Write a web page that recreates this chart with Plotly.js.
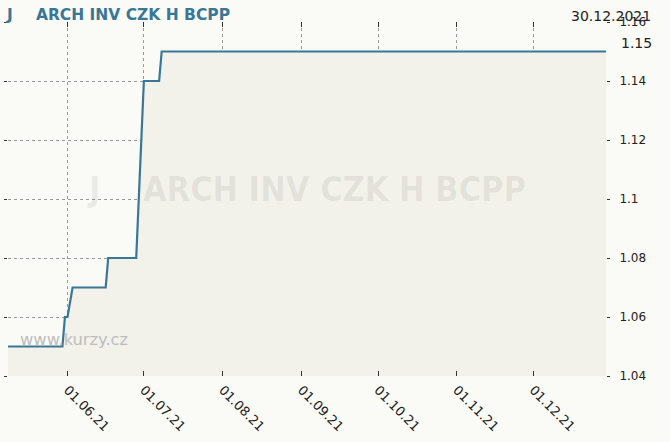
<!DOCTYPE html>
<html><head><meta charset="utf-8">
<script src="https://cdn.plot.ly/plotly-3.0.1.min.js"></script>
<style>html,body{margin:0;padding:0;background:#fafaf6}</style>
</head><body><div id="chart" style="width:670px;height:442px"></div>
<script>
const dates = ['2021-05-08','2021-05-30','2021-05-31','2021-06-01','2021-06-03','2021-06-16','2021-06-17','2021-06-28','2021-06-29','2021-06-30','2021-07-01','2021-07-07','2021-07-08','2021-12-30'];
const values = [1.05,1.05,1.06,1.06,1.07,1.07,1.08,1.08,1.10,1.12,1.14,1.14,1.15,1.15];
const monthTicks = ['2021-06-01','2021-07-01','2021-08-01','2021-09-01','2021-10-01','2021-11-01','2021-12-01'];
const monthLabels = ['01.06.21','01.07.21','01.08.21','01.09.21','01.10.21','01.11.21','01.12.21'];
const minorTicks = ['2021-05-11','2021-05-21','2021-06-11','2021-06-21','2021-07-11','2021-07-21','2021-08-11','2021-08-21','2021-09-11','2021-09-21','2021-10-11','2021-10-21','2021-11-11','2021-11-21','2021-12-11','2021-12-21'];
const yTicks = [1.04,1.06,1.08,1.1,1.12,1.14,1.16];
const yLabels = ['1.04','1.06','1.08','1.1','1.12','1.14','1.16'];
const xRange = ['2021-05-08 15:00','2021-12-29 13:30'];
const yRange = [1.04,1.16];
const titleText = 'J\u00a0\u00a0\u00a0\u00a0\u200aARCH INV CZK H BCPP';
const watermarkTitle = 'J\u00a0\u00a0\u00a0\u00a0ARCH INV CZK H BCPP';
const lastDate = '30.12.2021';
const lastValue = '1.15';
const watermark = 'www.kurzy.cz';

const LINE = '#3a7696';
const BG = '#fafaf6';
const FONT = 'DejaVu Sans, Verdana, sans-serif';

const traces = [{
  x: dates, y: values, type: 'scatter', mode: 'lines',
  line: {color: LINE, width: 2.2, shape: 'linear'},
  fill: 'tozeroy', fillcolor: '#f2f2ea',
  hoverinfo: 'skip', showlegend: false
}];

const gridStyle = {showgrid: true, gridcolor: '#9a9a9a', griddash: 'dot', gridwidth: 1, zeroline: false, showline: false};

const layout = {
  width: 670, height: 442,
  margin: {l: 8, r: 64, t: 22, b: 66},
  paper_bgcolor: BG, plot_bgcolor: BG,
  font: {family: FONT, color: '#222', size: 12},
  title: {text: titleText, x: 7/670, xref: 'container', xanchor: 'left', y: 1 - 15/442, yref: 'container', yanchor: 'middle',
          font: {family: FONT, size: 15.5, weight: 'bold', color: LINE}},
  xaxis: Object.assign({}, gridStyle, {
    type: 'date', range: xRange, tickmode: 'array', tickvals: monthTicks, ticktext: monthLabels,
    tickangle: 45, ticks: 'inside', ticklen: 5, tickcolor: '#333', mirror: 'ticks', ticklabelstandoff: 3,
    tickfont: {family: FONT, size: 13, color: '#222'}
  }),
  xaxis2: {
    type: 'date', range: xRange, overlaying: 'x', anchor: 'y', tickmode: 'array', tickvals: minorTicks,
    ticks: 'inside', ticklen: 3, tickcolor: '#333', mirror: 'ticks', showticklabels: false,
    showgrid: false, zeroline: false, showline: false
  },
  yaxis: Object.assign({}, gridStyle, {
    side: 'right', range: yRange, tickmode: 'array', tickvals: yTicks, ticktext: yLabels,
    ticks: 'outside', ticklen: 3, tickcolor: '#333', mirror: 'ticks', ticklabelstandoff: 7,
    tickfont: {family: FONT, size: 12, color: '#222'}
  }),
  annotations: [
    {text: watermarkTitle, xref: 'paper', yref: 'paper', x: 0.499, y: 0.528, xanchor: 'center', yanchor: 'middle', showarrow: false,
     font: {family: 'DejaVu Sans Condensed, DejaVu Sans', size: 34, weight: 'bold', color: 'rgba(0,0,0,0.07)'}},
    {text: watermark, xref: 'paper', yref: 'paper', x: 0.0165, y: 0.1017, xanchor: 'left', yanchor: 'middle', showarrow: false,
     font: {family: FONT, size: 16.3, color: '#bdbdbd'}},
    {text: lastDate, xref: 'paper', yref: 'paper', x: 1.0786, y: 1.017, xanchor: 'right', yanchor: 'middle', showarrow: false,
     font: {family: FONT, size: 14, color: '#222'}},
    {text: lastValue, xref: 'paper', yref: 'paper', x: 1.022, y: 0.9415, xanchor: 'left', yanchor: 'middle', showarrow: false,
     font: {family: FONT, size: 14, color: '#222'}}
  ]
};

Plotly.newPlot('chart', traces, layout, {staticPlot: true, displayModeBar: false});
</script></body></html>
